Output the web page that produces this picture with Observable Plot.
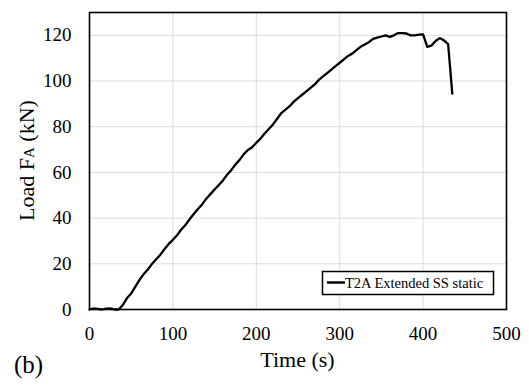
<!DOCTYPE html>
<html>
<head>
<meta charset="utf-8">
<script src="https://cdn.jsdelivr.net/npm/d3@7"></script>
<script src="https://cdn.jsdelivr.net/npm/@observablehq/plot@0.6"></script>
<style>
  html, body { margin: 0; padding: 0; background: #fff; }
  #chart svg text { font-family: "Liberation Serif", serif; }
</style>
</head>
<body>
<div id="chart"></div>
<script>
// Load history of specimen T2A (extended SS, static test)
const time = [0, 5, 10, 15, 20, 25, 30, 35, 40, 45, 50, 55, 60, 65, 70, 75, 80, 85, 90, 95,
  100, 105, 110, 115, 120, 125, 130, 135, 140, 145, 150, 155, 160, 165, 170, 175, 180, 185, 190, 195,
  200, 205, 210, 215, 220, 225, 230, 235, 240, 245, 250, 255, 260, 265, 270, 275, 280, 285, 290, 295,
  300, 305, 310, 315, 320, 325, 330, 335, 340, 345, 350, 355, 360, 365, 370, 375, 380, 385, 390, 395,
  400, 405, 410, 415, 420, 425, 430, 435];
const load = [0, 0.5, 0.3, 0, 0.4, 0.5, 0, 0, 2, 5, 7, 10, 13, 15.5, 17.5, 20, 22, 24, 26.5, 28.7,
  30.5, 32.5, 35, 37, 39.5, 41.8, 44, 46, 48.5, 50.5, 52.5, 54.5, 56.5, 59, 61, 63.5, 65.5, 68, 69.8, 71,
  73, 74.8, 77, 79, 81, 83.5, 86, 87.5, 89, 91, 92.5, 94, 95.5, 97, 98.5, 100.5, 102, 103.5, 105, 106.5,
  108, 109.5, 111, 112, 113.5, 115, 116, 117, 118.5, 119, 119.5, 120, 119.3, 120, 121, 121, 120.8, 120, 120, 120.3,
  120.4, 115, 115.5, 117.5, 118.8, 117.8, 116.2, 94.5];

const xTicks = [0, 100, 200, 300, 400, 500];
const yTicks = [0, 20, 40, 60, 80, 100, 120];
const seriesName = "T2A Extended SS static";

const data = time.map((t, i) => ({time: t, load: load[i]}));

const W = 529, H = 391;
const mL = 89, mR = 23, mT = 12, mB = 82;
const font = "Liberation Serif";

const chart = Plot.plot({
  width: W,
  height: H,
  marginLeft: mL,
  marginRight: mR,
  marginTop: mT,
  marginBottom: mB,
  style: {fontFamily: font, fontSize: "19px", color: "#000", background: "#fff"},
  x: {domain: [0, 500]},
  y: {domain: [0, 130]},
  marks: [
    Plot.gridX(xTicks, {stroke: "#dcdcdc", strokeOpacity: 1, strokeWidth: 1}),
    Plot.gridY(yTicks, {stroke: "#dcdcdc", strokeOpacity: 1, strokeWidth: 1}),
    Plot.axisX(xTicks, {tickSize: 0, tickPadding: 17, fontSize: 19, fontFamily: font, label: null}),
    Plot.axisY(yTicks, {tickSize: 0, tickPadding: 18, fontSize: 19, fontFamily: font, label: null}),
    Plot.line(data, {x: "time", y: "load", stroke: "#000", strokeWidth: 2.3, strokeLinejoin: "round"}),
    Plot.frame({stroke: "#000", strokeWidth: 1.6})
  ]
});

document.getElementById("chart").appendChild(chart);

const svg = d3.select(chart);

// axis titles
svg.append("text")
  .attr("x", mL + (W - mL - mR) / 2)
  .attr("y", 367)
  .attr("text-anchor", "middle")
  .attr("font-family", font)
  .attr("font-size", 22)
  .attr("fill", "#000")
  .text("Time (s)");

const yLab = svg.append("text")
  .attr("transform", `translate(34,${mT + (H - mT - mB) / 2}) rotate(-90)`)
  .attr("text-anchor", "middle")
  .attr("font-family", font)
  .attr("font-size", 22)
  .attr("fill", "#000");
yLab.append("tspan").text("Load F");
yLab.append("tspan").attr("font-size", 15).text("A");
yLab.append("tspan").text(" (kN)");

// panel tag
svg.append("text")
  .attr("x", 14)
  .attr("y", 373)
  .attr("text-anchor", "start")
  .attr("font-family", font)
  .attr("font-size", 25)
  .attr("fill", "#000")
  .text("(b)");

// legend
const lg = svg.append("g");
lg.append("rect")
  .attr("x", 322.5).attr("y", 271.5)
  .attr("width", 171).attr("height", 23)
  .attr("fill", "#fff").attr("stroke", "#000").attr("stroke-width", 1.5);
lg.append("line")
  .attr("x1", 327).attr("x2", 345).attr("y1", 282.5).attr("y2", 282.5)
  .attr("stroke", "#000").attr("stroke-width", 2.5);
lg.append("text")
  .attr("x", 345).attr("y", 288)
  .attr("text-anchor", "start")
  .attr("font-family", font)
  .attr("font-size", 14.5)
  .attr("fill", "#000")
  .text(seriesName);
</script>
</body>
</html>
